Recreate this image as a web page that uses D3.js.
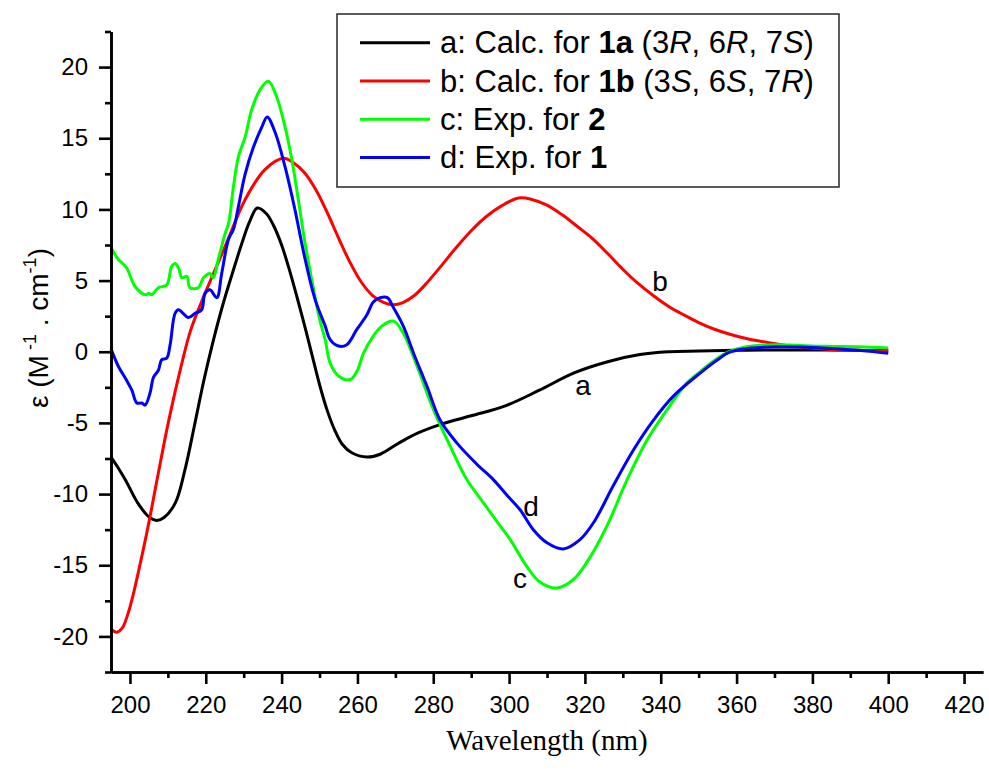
<!DOCTYPE html>
<html>
<head>
<meta charset="utf-8">
<script src="https://cdn.jsdelivr.net/npm/d3@7/dist/d3.min.js"></script>
<style>
  body { margin: 0; background: #fff; }
</style>
</head>
<body>
<div class="chart"></div>
<script>
// CD spectra (wavelength nm, epsilon)
var aWl  = [195,197,199,202,205,207,209,212,214.5,217,219.5,222,224.5,227,229.5,231.5,233.6,236,238,240,242,244,246,248,250,252,254,256,258.5,262.5,266,271,276,282,290,299,308,317,326,334.5,342,350,360,370,380,390,400];
var aEps = [-7.4,-8.2,-9.1,-10.6,-11.6,-11.85,-11.65,-10.6,-8.3,-5.2,-2.0,0.8,3.3,5.5,7.6,9.1,10.1,9.7,8.8,7.5,5.8,3.9,1.9,-0.2,-2.3,-4.1,-5.5,-6.5,-7.1,-7.4,-7.2,-6.4,-5.7,-5.1,-4.5,-3.8,-2.7,-1.5,-0.7,-0.2,0.0,0.05,0.1,0.12,0.12,0.1,0.08];

var bWl  = [195,196.5,198,199.6,201,202.2,204.8,207.5,210.1,213.7,216,219.8,225.1,230.4,235.6,240.5,243,246,249,252,255,258,261,264,267,269.5,272,275,278,282,286,290,294,298,302.5,306,310,314,318,322,326,330,334,338,342,346,350,354,358,362,366,375,384,392,400];
var bEps = [-19.5,-19.7,-19.4,-18.3,-16.9,-15.5,-12.25,-8.5,-5.0,-0.8,1.5,4.1,7.4,10.7,12.8,13.6,13.3,12.6,11.4,9.8,8.0,6.3,4.9,3.95,3.45,3.3,3.45,3.95,4.75,6.0,7.3,8.5,9.5,10.25,10.8,10.7,10.3,9.62,8.8,7.95,6.9,5.8,4.8,3.95,3.2,2.6,2.05,1.6,1.25,0.97,0.75,0.38,0.17,0.1,0.05];

var cWl  = [195,196.9,199.1,201.3,204,205,205.7,207.5,209.7,211,211.9,212.8,213.7,215,215.8,218,219.4,221.1,222,223.3,225.1,226,227.3,228.6,230.4,232.1,234.3,236.5,238.7,240.9,242.7,244.4,246.2,248,250.1,251.5,252.8,255,258.1,260,261.6,264.2,266.4,269.5,272.1,275.7,280.1,284.4,288.9,293.2,297,300.3,304.7,308.2,312.6,317,320.5,325.8,331.1,336.4,341.6,346.9,350.4,354.8,358,361.8,366,370.6,376,383.8,392,400];
var cEps = [7.3,6.5,5.9,4.6,4.0,4.1,4.0,4.5,4.7,6.0,6.2,5.9,5.2,5.3,4.5,4.5,5.2,5.5,5.2,6.5,8.3,9.0,11.6,13.7,15.1,17.0,18.4,19.0,17.9,15.8,13.5,10.7,7.6,5.0,2.2,0.85,-0.8,-1.7,-1.95,-1.3,-0.1,1.1,1.8,2.15,1.3,-1.0,-4.1,-6.6,-9.0,-10.6,-12.0,-13.2,-15.1,-16.2,-16.6,-16.0,-14.8,-12.25,-9.0,-6.2,-4.1,-2.2,-1.4,-0.5,0.0,0.3,0.45,0.5,0.45,0.38,0.35,0.27];

var dWl  = [195,196.9,199.1,200.5,201.8,203.1,204,205.3,206.2,207.5,208.4,209.7,210.6,211.9,212.8,215.4,217.2,218.9,219.8,221.1,222.9,224.2,226,227.3,228.6,230.4,232.6,234.8,236.2,238.3,240.9,243.5,246.2,248.8,251.5,252.8,255,257.2,259.8,262.5,264.2,266,267.9,269.5,272.1,274.8,278.3,281.8,286.2,291.5,295.9,299.5,302.9,306.4,309.9,314.3,318.7,322.3,327.5,332.8,338.1,343.4,350.4,354.8,358,361.8,366,370.6,383.8,392,400];
var dEps = [0.2,-1.0,-2.0,-2.7,-3.6,-3.6,-3.75,-2.9,-1.8,-1.3,-0.55,-0.45,0.5,2.7,2.95,2.4,2.7,2.95,4.1,4.35,3.8,5.5,7.9,8.6,10.2,12.5,14.4,15.8,16.5,15.4,13.0,10.0,6.5,3.7,1.8,0.85,0.4,0.5,1.55,2.6,3.5,3.8,3.8,3.1,1.8,-0.1,-2.4,-4.8,-6.4,-7.9,-9.0,-10.1,-11.1,-12.5,-13.4,-13.85,-13.2,-12.0,-9.4,-6.9,-4.8,-3.1,-1.5,-0.6,-0.05,0.2,0.3,0.35,0.25,0.1,-0.1];

var xMajor = [200,220,240,260,280,300,320,340,360,380,400,420];
var xMinor = [210,230,250,270,290,310,330,350,370,390,410];
var yMajor = [-20,-15,-10,-5,0,5,10,15,20];
var yMinor = [-22.5,-17.5,-12.5,-7.5,-2.5,2.5,7.5,12.5,17.5,22.5];

var seriesColors = ["#000000","#ff0000","#00ff00","#0000ff"];

var sansFont = "'Liberation Sans', Arial, sans-serif";

var svgWidth = 989, svgHeight = 771;
var margin = { top: 31.5, right: 6, bottom: 99, left: 111 };
var width = svgWidth - margin.left - margin.right;
var height = svgHeight - margin.top - margin.bottom;

var svg = d3.select(".chart").append("svg")
  .attr("width", svgWidth)
  .attr("height", svgHeight)
  .attr("font-family", sansFont);

var chart = svg.append("g")
  .attr("transform", "translate(" + margin.left + "," + margin.top + ")");

var x = d3.scaleLinear().domain([195, 425]).range([0, width]);
var y = d3.scaleLinear().domain([-22.5, 22.5]).range([height, 0]);

// curves
var line = d3.line()
  .x(function(d) { return x(d[0]); })
  .y(function(d) { return y(d[1]); })
  .curve(d3.curveCatmullRom.alpha(0.5));

var allSeries = [d3.zip(aWl, aEps), d3.zip(bWl, bEps), d3.zip(cWl, cEps), d3.zip(dWl, dEps)];

chart.selectAll(".curve")
  .data(allSeries)
  .enter().append("path")
  .attr("class", "curve")
  .attr("d", line)
  .attr("fill", "none")
  .attr("stroke", function(d, i) { return seriesColors[i]; })
  .attr("stroke-width", 3)
  .attr("stroke-linejoin", "round");

// axes
function styleAxis(g) {
  g.attr("font-family", sansFont);
  g.select(".domain").attr("stroke", "#000").attr("stroke-width", 2.6);
  g.selectAll(".tick line").attr("stroke", "#000").attr("stroke-width", 2.6);
  g.selectAll(".tick text").attr("font-size", 24).attr("fill", "#000");
}

chart.append("g")
  .attr("transform", "translate(0," + height + ")")
  .call(d3.axisBottom(x).tickValues(xMinor).tickSize(6).tickFormat("").tickSizeOuter(0))
  .call(styleAxis);
chart.append("g")
  .attr("transform", "translate(0," + height + ")")
  .call(d3.axisBottom(x).tickValues(xMajor).tickSize(12).tickPadding(12).tickSizeOuter(0)
    .tickFormat(function(d) { return String(d); }))
  .call(styleAxis);

chart.append("g")
  .call(d3.axisLeft(y).tickValues(yMinor).tickSize(6).tickFormat("").tickSizeOuter(0))
  .call(styleAxis);
chart.append("g")
  .call(d3.axisLeft(y).tickValues(yMajor).tickSize(12).tickPadding(11).tickSizeOuter(0)
    .tickFormat(function(d) { return String(d); }))
  .call(styleAxis);

// axis titles
svg.append("text")
  .attr("x", 547)
  .attr("y", 750)
  .attr("text-anchor", "middle")
  .attr("font-family", "'Liberation Serif', 'Times New Roman', serif")
  .attr("font-size", 29)
  .text("Wavelength (nm)");

var yTitle = svg.append("text")
  .attr("transform", "translate(48,328) rotate(-90)")
  .attr("text-anchor", "middle")
  .attr("font-size", 28);
yTitle.append("tspan").text("\u03b5  (M");
yTitle.append("tspan").attr("font-size", 18).attr("dy", -12).text(" -1");
yTitle.append("tspan").attr("dy", 12).text(" . cm");
yTitle.append("tspan").attr("font-size", 18).attr("dy", -12).text("-1");
yTitle.append("tspan").attr("dy", 12).text(")");

// curve letters
var curveLabels = [["b", 660, 291], ["a", 583, 395], ["d", 531, 516], ["c", 520, 588]];
svg.selectAll(".clabel")
  .data(curveLabels)
  .enter().append("text")
  .attr("class", "clabel")
  .attr("x", function(d) { return d[1]; })
  .attr("y", function(d) { return d[2]; })
  .attr("text-anchor", "middle")
  .attr("font-size", 28)
  .text(function(d) { return d[0]; });

// legend
var legend = svg.append("g");
legend.append("rect")
  .attr("x", 337).attr("y", 14)
  .attr("width", 502).attr("height", 173)
  .attr("fill", "#fff")
  .attr("stroke", "#333")
  .attr("stroke-width", 1.6);

var legendRows = [
  [["a: Calc. for ", ""], ["1a", "b"], [" (3", ""], ["R", "i"], [", 6", ""], ["R", "i"], [", 7", ""], ["S", "i"], [")", ""]],
  [["b: Calc. for ", ""], ["1b", "b"], [" (3", ""], ["S", "i"], [", 6", ""], ["S", "i"], [", 7", ""], ["R", "i"], [")", ""]],
  [["c: Exp. for ", ""], ["2", "b"]],
  [["d: Exp. for ", ""], ["1", "b"]]
];

legendRows.forEach(function(row, i) {
  var ly = 42.7 + i * 38.3;
  legend.append("line")
    .attr("x1", 360).attr("x2", 430)
    .attr("y1", ly).attr("y2", ly)
    .attr("stroke", seriesColors[i])
    .attr("stroke-width", 3);
  var t = legend.append("text")
    .attr("x", 440)
    .attr("y", ly + 10.5)
    .attr("font-size", 31);
  row.forEach(function(part) {
    t.append("tspan")
      .attr("font-weight", part[1] === "b" ? "bold" : null)
      .attr("font-style", part[1] === "i" ? "italic" : null)
      .text(part[0]);
  });
});
</script>
</body>
</html>
